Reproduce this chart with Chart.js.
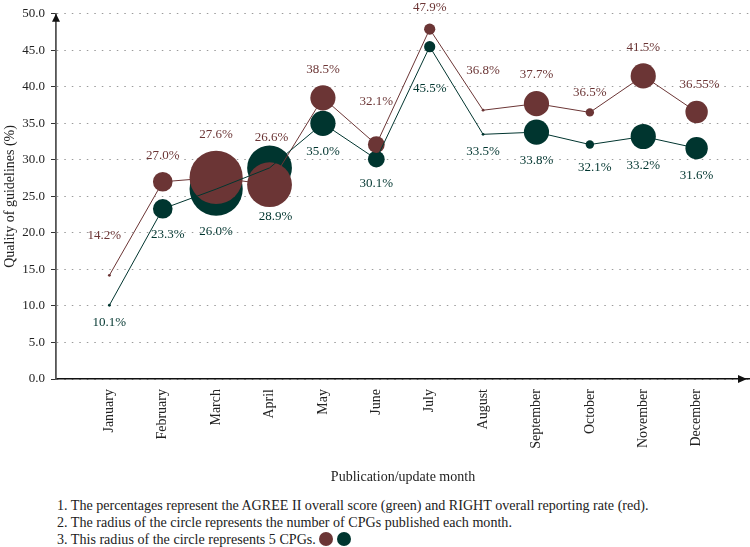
<!DOCTYPE html>
<html>
<head>
<meta charset="utf-8">
<title>Quality of guidelines by publication month</title>
<script src="https://cdn.jsdelivr.net/npm/chart.js@4.4.1/dist/chart.umd.min.js"></script>
<style>
  body { margin: 0; background: #fff; font-family: 'Liberation Serif', serif; }
  #wrap { position: relative; width: 750px; height: 547px; }
  #chart-box { position: absolute; left: 0; top: 0; width: 750px; height: 490px; }
  #notes { position: absolute; left: 57px; top: 497px; font-size: 14.1px; line-height: 17px; color: #222; white-space: nowrap; }
  .dot { display: inline-block; width: 14px; height: 14px; border-radius: 50%; vertical-align: -2px; }
</style>
</head>
<body>
<div id="wrap">
  <div id="chart-box"><canvas id="quality-graph"></canvas></div>
  <div id="notes">
    <div>1. The percentages represent the AGREE II overall score (green) and RIGHT overall reporting rate (red).</div>
    <div>2. The radius of the circle represents the number of CPGs published each month.</div>
    <div>3. This radius of the circle represents 5 CPGs. <span class="dot" style="background:#6b3535"></span><span class="dot" style="background:#00352f; margin-left:4px"></span></div>
  </div>
</div>

<script>
var months = ['January', 'February', 'March', 'April', 'May', 'June', 'July',
              'August', 'September', 'October', 'November', 'December'];
// RIGHT overall reporting rate (red), %
var rightRate = [14.2, 27.0, 27.6, 26.6, 38.5, 32.1, 47.9, 36.8, 37.7, 36.5, 41.5, 36.55];
// AGREE II overall score (green), %
var agreeScore = [10.1, 23.3, 26.0, 28.9, 35.0, 30.1, 45.5, 33.5, 33.8, 32.1, 33.2, 31.6];
var cpgCount = [1, 7, 19, 16, 9, 6, 4, 1, 9, 3, 9, 8];

var RED = '#6b3535';
var GREEN = '#00352f';
var FONT = "'Liberation Serif', 'DejaVu Serif', serif";
var PX_PER_CPG = 1.4; // 5 CPGs -> 7px radius

document.addEventListener('DOMContentLoaded', function() {
    renderQualityGraph();
});

function fmtPct(v) {
    var tenth = Math.abs(v * 10 - Math.round(v * 10)) < 1e-6;
    return (tenth ? v.toFixed(1) : v.toFixed(2)) + '%';
}

function renderQualityGraph() {
    var radii = cpgCount.map(function(c) { return c * PX_PER_CPG; });

    var redPts = rightRate.map(function(v, i) { return {x: i + 1, y: v}; });
    var greenPts = agreeScore.map(function(v, i) { return {x: i + 1, y: v}; });

    // value labels: red above, green below; a few are shifted to avoid overlaps
    var pointLabels = {
        id: 'pointLabels',
        afterDatasetsDraw: function(chart) {
            var ctx = chart.ctx;
            ctx.save();
            ctx.font = '13px ' + FONT;
            ctx.textAlign = 'center';
            ctx.textBaseline = 'middle';
            chart.data.datasets.forEach(function(ds, i) {
                if (!ds.labelSide) return;
                var meta = chart.getDatasetMeta(i);
                ctx.fillStyle = ds.backgroundColor;
                meta.data.forEach(function(pt, j) {
                    var dy = ds.labelSide * (radii[j] + 16) + (ds.nudgeY[j] || 0);
                    ctx.fillText(fmtPct(ds.values[j]), pt.x + (ds.nudgeX[j] || 0), pt.y + dy);
                });
            });
            ctx.restore();
        }
    };

    // arrow heads on both axes
    var axisArrows = {
        id: 'axisArrows',
        afterDraw: function(chart) {
            var ctx = chart.ctx;
            var a = chart.chartArea;
            ctx.save();
            ctx.fillStyle = '#111';
            ctx.beginPath();
            ctx.moveTo(a.left, a.top);
            ctx.lineTo(a.left - 4, a.top + 8);
            ctx.lineTo(a.left + 4, a.top + 8);
            ctx.closePath();
            ctx.fill();
            ctx.beginPath();
            ctx.moveTo(a.right - 3, a.bottom);
            ctx.lineTo(a.right - 12, a.bottom - 4);
            ctx.lineTo(a.right - 12, a.bottom + 4);
            ctx.closePath();
            ctx.fill();
            ctx.restore();
        }
    };

    var ctx = document.getElementById('quality-graph').getContext('2d');

    new Chart(ctx, {
        type: 'line',
        data: {
            datasets: [
                // lines on top of every circle
                { data: greenPts, borderColor: GREEN, borderWidth: 1, pointRadius: 0, order: 1 },
                { data: redPts, borderColor: RED, borderWidth: 1, pointRadius: 0, order: 1 },
                // circles
                { data: redPts, showLine: false, backgroundColor: RED, borderWidth: 0,
                  pointRadius: radii, pointBorderWidth: 0, order: 2,
                  labelSide: -1, values: rightRate,
                  nudgeX: [-5, 0, 0, 2, 0, 0, 0, 0, 0, 0, 0, 3],
                  nudgeY: [-22, 0, 0, -9, 0, -19, 0, -22, 0, 0, 0, 0] },
                { data: greenPts, showLine: false, backgroundColor: GREEN, borderWidth: 0,
                  pointRadius: radii, pointBorderWidth: 0, order: 3,
                  labelSide: 1, values: agreeScore,
                  nudgeX: [0, 5, 0, 6, 0, 0, 0, 0, 0, 5, 0, 0],
                  nudgeY: [0, 0, 0, 10, 0, 0, 20, 0, 0, 3, 0, 0] }
            ]
        },
        options: {
            responsive: true,
            maintainAspectRatio: false,
            animation: false,
            events: [],
            layout: { autoPadding: false, padding: { top: 10, left: 0, right: 0, bottom: 0 } },
            plugins: {
                legend: { display: false },
                tooltip: { enabled: false }
            },
            scales: {
                x: {
                    type: 'linear',
                    min: 0,
                    max: 13,
                    grid: { display: false, drawTicks: false },
                    border: { display: true, color: '#111', width: 1.5 },
                    ticks: {
                        stepSize: 1,
                        autoSkip: false,
                        maxRotation: 90,
                        minRotation: 90,
                        padding: 10,
                        color: '#222',
                        font: { family: FONT, size: 14 },
                        callback: function(v) { return months[v - 1] || null; }
                    },
                    title: {
                        display: true,
                        text: 'Publication/update month',
                        color: '#222',
                        font: { family: FONT, size: 14 },
                        padding: { top: 0, bottom: 4 }
                    },
                    afterFit: function(scale) {
                        scale.height = 111;
                        scale.paddingLeft = 0;
                        scale.paddingRight = 0;
                    }
                },
                y: {
                    min: 0,
                    max: 50,
                    grid: { color: '#9a9a9a', lineWidth: 1, tickLength: 5, tickColor: '#333', tickWidth: 1 },
                    border: { color: '#555', width: 1.8, dash: [1.5, 6] },
                    ticks: {
                        stepSize: 5,
                        padding: 6,
                        color: '#222',
                        font: { family: FONT, size: 13 },
                        callback: function(v) { return v.toFixed(1); }
                    },
                    title: {
                        display: true,
                        text: 'Quality of guidelines (%)',
                        color: '#222',
                        font: { family: FONT, size: 14 },
                        padding: { top: 2, bottom: 0 }
                    },
                    afterFit: function(scale) { scale.width = 56; }
                }
            }
        },
        plugins: [pointLabels, axisArrows]
    });
}
</script>
</body>
</html>
